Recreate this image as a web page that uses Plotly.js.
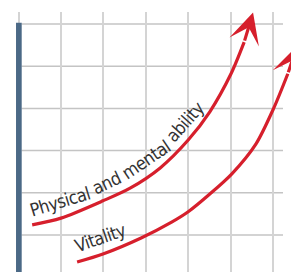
<!DOCTYPE html>
<html><head><meta charset="utf-8">
<script src="https://cdn.plot.ly/plotly-3.0.1.min.js"></script>
<style>html,body{margin:0;padding:0;background:#fff;overflow:hidden}
.annotation-text{letter-spacing:-0.5px}</style>
</head><body><div id="chart" style="width:291px;height:272px"></div>
<script>
// Data
const abilityX = [0.32, 1.00, 1.99, 2.63, 3.34, 4.00, 4.51, 5.01, 5.32, 5.53];
const abilityY = [1.24, 1.40, 1.81, 2.11, 2.59, 3.25, 3.92, 4.82, 5.57, 6.27];
const vitalityX = [1.38, 1.99, 2.89, 3.62, 4.00, 4.51, 5.03, 5.60, 6.02, 6.35, 6.57];
const vitalityY = [0.36, 0.55, 0.93, 1.31, 1.55, 1.97, 2.45, 3.16, 4.01, 4.82, 5.48];
const xTicks = [0, 1, 2, 3, 4, 5, 6];
const yTicks = [1, 2, 3, 4, 5, 6];
const abilityWords = ['Physical', 'and', 'mental', 'ability'];
const vitalityText = 'Vitality';

const RED = '#d61f2c';
const TEXT = '#333333';
const FONT = '"DejaVu Sans Condensed", "Liberation Sans Narrow", "Arial Narrow", sans-serif';
const FS = 18;
const LW = 3.2;

function curve(xs, ys) {
  return {
    x: xs.slice(0, -1), y: ys.slice(0, -1),
    type: 'scatter', mode: 'lines',
    line: {color: RED, width: LW, shape: 'spline', smoothing: 0.8},
    hoverinfo: 'skip', showlegend: false
  };
}
function arrow(xs, ys) {
  const n = xs.length;
  return {
    x: xs[n - 1], y: ys[n - 1], ax: xs[n - 2], ay: ys[n - 2],
    xref: 'x', yref: 'y', axref: 'x', ayref: 'y',
    text: '', showarrow: true, arrowhead: 3, arrowsize: 1.6,
    arrowwidth: LW, arrowcolor: RED, standoff: 0
  };
}

const wordPos = [
  {x: 0.98, y: 1.79, a: -17},
  {x: 2.08, y: 2.24, a: -25},
  {x: 3.01, y: 2.79, a: -34},
  {x: 3.93, y: 3.68, a: -48}
];
const labels = abilityWords.map((w, i) => ({
  x: wordPos[i].x, y: wordPos[i].y, xref: 'x', yref: 'y',
  text: w, showarrow: false, textangle: wordPos[i].a,
  xanchor: 'center', yanchor: 'middle',
  font: {family: FONT, size: FS, color: TEXT}
}));
labels.push({
  x: 1.94, y: 0.93, xref: 'x', yref: 'y', text: vitalityText, showarrow: false,
  textangle: -19, xanchor: 'center', yanchor: 'middle',
  font: {family: FONT, size: FS, color: TEXT}
});

const shapes = yTicks.map(v => ({
  type: 'line', xref: 'x', yref: 'y', x0: 0.07, x1: 6.236, y0: v, y1: v,
  line: {color: '#c4c4c4', width: 1.5}, layer: 'below'
}));
shapes.push({
  type: 'rect', xref: 'x', yref: 'y', x0: -0.061, x1: 0.073, y0: 0, y1: 6.03,
  fillcolor: '#4b6986', line: {width: 0}, layer: 'between'
});

const layout = {
  width: 291, height: 272,
  margin: {l: 15, r: 0, t: 12, b: 0, pad: 0},
  paper_bgcolor: '#ffffff', plot_bgcolor: '#ffffff',
  showlegend: false,
  xaxis: {range: [-0.085, 6.425], tickvals: xTicks, showticklabels: false, ticks: '',
          showgrid: true, gridcolor: '#d4d4d4', gridwidth: 2, zeroline: false, showline: false, fixedrange: true},
  yaxis: {range: [0.123, 6.284], tickvals: yTicks, showticklabels: false, ticks: '',
          showgrid: false, zeroline: false, showline: false, fixedrange: true},
  shapes: shapes,
  annotations: labels.concat([arrow(abilityX, abilityY), arrow(vitalityX, vitalityY)])
};

Plotly.newPlot('chart', [curve(abilityX, abilityY), curve(vitalityX, vitalityY)], layout,
  {displayModeBar: false, staticPlot: true});
</script></body></html>
